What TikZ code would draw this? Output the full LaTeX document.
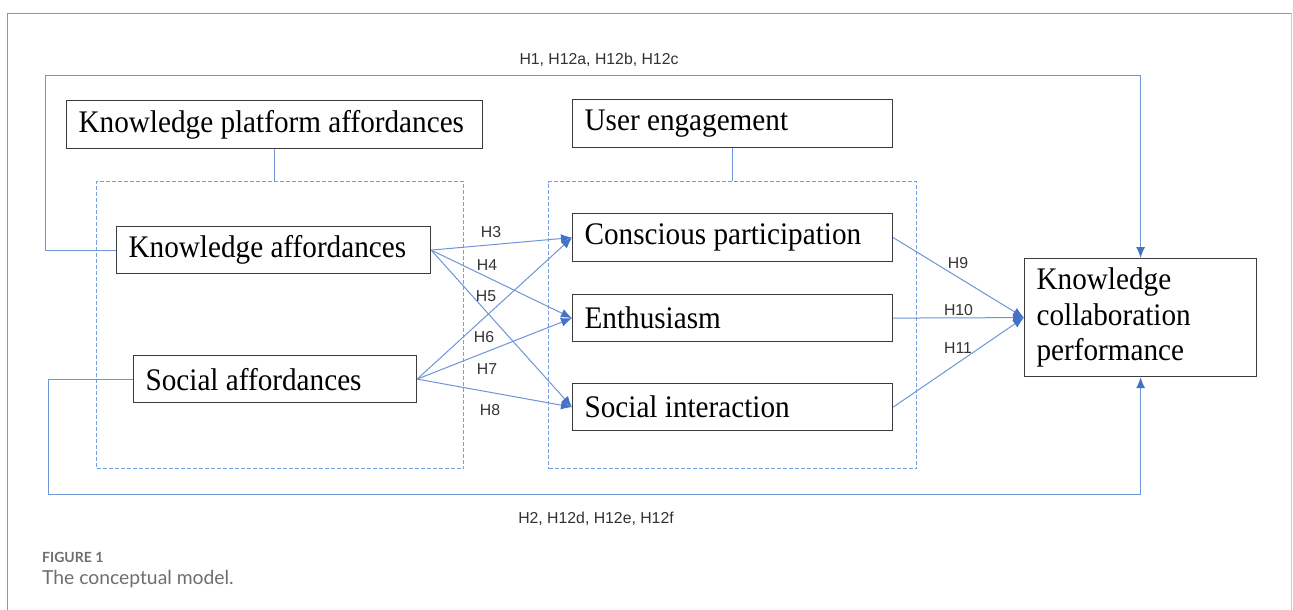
\documentclass[tikz,border=0pt]{standalone}
\usepackage{fontspec}
\setmainfont{Liberation Serif}
\newfontfamily\boxfont[FakeStretch=0.93]{Liberation Serif}
\newfontfamily\hfont{Liberation Sans}
\newfontfamily\capfont{Lato}
\usetikzlibrary{arrows.meta}
\definecolor{boxgray}{RGB}{60,60,60}
\definecolor{lineblue}{RGB}{110,148,218}
\definecolor{headblue}{RGB}{68,114,196}
\definecolor{dashblue}{RGB}{120,158,222}
\definecolor{labgray}{RGB}{50,50,50}
\definecolor{capgray}{RGB}{110,110,110}
\definecolor{framegray}{RGB}{150,150,150}
\definecolor{framelight}{RGB}{205,205,205}
\tikzset{
  tbox/.style={draw=boxgray, line width=1.2pt, inner xsep=12pt, inner ysep=0pt,
    align=flush left, anchor=north west, font=\boxfont\fontsize{31.4}{35.5}\selectfont},
  dashbox/.style={draw=dashblue, line width=1pt, dash pattern=on 4pt off 2pt,
    anchor=north west, inner sep=0pt},
  conn/.style={draw=lineblue, line width=1pt},
  arr/.style={conn, -{Latex[length=11pt,width=9pt,color=headblue]}},
  hlab/.style={font=\hfont\fontsize{15.8}{18}\selectfont, text=labgray, anchor=base, inner sep=0pt}
}
\begin{document}
\begin{tikzpicture}[x=1pt,y=-1pt]
\useasboundingbox (0,0) rectangle (1293,610);
% outer frame
\draw[framegray, line width=1pt] (7,610) -- (7,13.5) -- (1291.5,13.5);
\draw[framelight, line width=1pt] (1291.5,13.5) -- (1291.5,610);

% group boxes
\node[dashbox, minimum width=367pt, minimum height=287pt] (g1) at (96,181) {};
\node[dashbox, minimum width=368pt, minimum height=287pt] (g2) at (548,181) {};

% boxes
\node[tbox, text width=392pt, minimum height=48pt] (kpa) at (66,100) {Knowledge platform affordances};
\node[tbox, text width=296pt, minimum height=48pt] (ue) at (572,99) {User engagement};
\node[tbox, text width=290pt, minimum height=47pt] (ka) at (116,226) {Knowledge affordances};
\node[tbox, text width=259pt, minimum height=47pt] (sa) at (133,355) {Social affordances};
\node[tbox, text width=296pt, minimum height=48pt] (cp) at (572,213) {Conscious participation};
\node[tbox, text width=296pt, minimum height=47pt] (en) at (572,294) {Enthusiasm};
\node[tbox, text width=296pt, minimum height=47pt] (si) at (572,383) {Social interaction};
\node[tbox, text width=208pt, minimum height=118pt] (kcp) at (1024,258) {Knowledge\\collaboration\\performance};

% group links
\draw[conn] (kpa.south) -- (kpa.south |- g1.north);
\draw[conn] (ue.south) -- (ue.south |- g2.north);

% long connectors
\coordinate (tl) at (45.7,76);
\coordinate (bl) at (48,494);
\draw[arr] (ka.west) -| (tl) -| (kcp.north);
\draw[arr] (sa.west) -| (bl) -| (kcp.south);

% cross arrows
\draw[arr] (ka.east) -- (cp.west);
\draw[arr] (ka.east) -- (en.west);
\draw[arr] (ka.east) -- (si.west);
\draw[arr] (sa.east) -- (cp.west);
\draw[arr] (sa.east) -- (en.west);
\draw[arr] (sa.east) -- (si.west);

% to outcome
\draw[arr] (cp.east) -- (kcp.west);
\draw[arr] (en.east) -- (kcp.west);
\draw[arr] (si.east) -- (kcp.west);

% labels
\node[hlab] (l1) at (599,64) {H1, H12a, H12b, H12c};
\node[hlab] (l2) at (596,523) {H2, H12d, H12e, H12f};
\node[hlab] (l3) at (491,237) {H3};
\node[hlab] (l4) at (487,270) {H4};
\node[hlab] (l5) at (486,301) {H5};
\node[hlab] (l6) at (484,342) {H6};
\node[hlab] (l7) at (487,374) {H7};
\node[hlab] (l8) at (490,415) {H8};
\node[hlab] (l9) at (958,268) {H9};
\node[hlab] (l10) at (958.5,315) {H10};
\node[hlab] (l11) at (958,353) {H11};

% caption
\node[anchor=base west, inner sep=0pt, text=capgray, font=\capfont\bfseries\fontsize{14}{16}\selectfont] (fig) at (42,562) {FIGURE 1};
\node[anchor=base west, inner sep=0pt, text=capgray, font=\capfont\fontsize{19.3}{22}\selectfont] (cap) at (42,584) {The conceptual model.};
\end{tikzpicture}
\end{document}
